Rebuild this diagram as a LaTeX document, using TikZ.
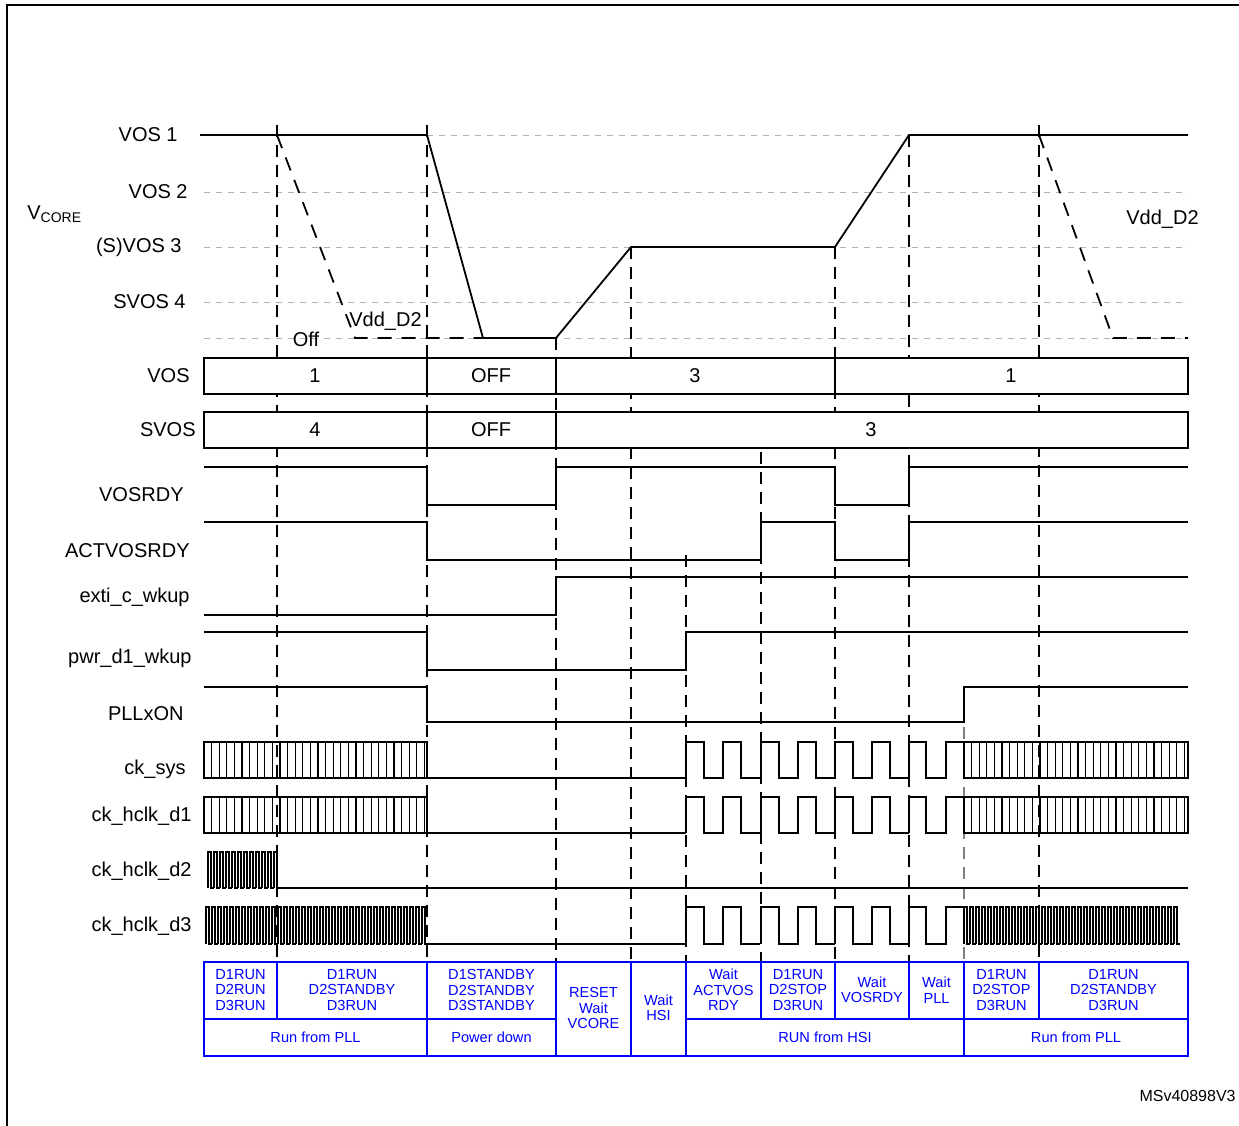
\documentclass[tikz,border=0pt]{standalone}
\usepackage{fontspec}
\setmainfont{Liberation Sans}
\begin{document}
\begin{tikzpicture}[x=0.5pt,y=-0.5pt,
  sig/.style={line width=0.9pt,black},
  grid/.style={gray!60,dashed,line width=0.5pt},
  vd/.style={line width=0.7pt,dash pattern=on 6pt off 4pt},
  lab/.style={anchor=east,font=\fontsize{10}{12}\selectfont,inner sep=0pt},
  fv/.style={font=\fontsize{10}{12}\selectfont,inner sep=0pt},
  tb/.style={blue,line width=0.9pt},
  tt/.style={blue,font=\fontsize{7.3}{7.7}\selectfont,align=center,inner sep=0pt}]
\useasboundingbox (0,0) rectangle (1239,1126);
\draw[line width=1pt] (7,1126) -- (7,5) -- (1239,5);
% grid lines
\foreach \y in {192,247,302,338} \draw[grid] (204,\y) -- (1188,\y);
\draw[grid] (427,135) -- (1188,135);
% vertical dashed markers
\draw[vd] (277,125) -- (277,962);
\draw[vd] (427,125) -- (427,962);
\draw[vd] (556,338) -- (556,962);
\draw[vd] (631,247) -- (631,962);
\draw[vd] (686,555) -- (686,962);
\draw[vd] (761,412) -- (761,962);
\draw[vd] (835,247) -- (835,962);
\draw[vd] (909,135) -- (909,962);
\draw[vd,gray] (964,687) -- (964,962);
\draw[vd] (1039,125) -- (1039,962);
% left labels
\node[lab] (l1) at (178,135) {VOS 1};
\node[lab] (l2) at (188,192) {VOS 2};
\node[lab] (l3) at (182,247) {(S)VOS 3};
\node[lab] (l4) at (186,302) {SVOS 4};
\node[anchor=west,fv] (vc) at (27,214) {V\textsubscript{\fontsize{7}{8}\selectfont CORE}};
\node[lab] (l5) at (190,376) {VOS};
\node[lab] (l6) at (196,430) {SVOS};
\node[lab] (l7) at (184,495) {VOSRDY};
\node[lab] (l8) at (190,551) {ACTVOSRDY};
\node[lab] (l9) at (190,597) {exti\_c\_wkup};
\node[lab] (l10) at (192,658) {pwr\_d1\_wkup};
\node[lab] (l11) at (184,714) {PLLxON};
\node[lab] (l12) at (186,769) {ck\_sys};
\node[lab] (l13) at (192,816) {ck\_hclk\_d1};
\node[lab] (l14) at (192,871) {ck\_hclk\_d2};
\node[lab] (l15) at (192,926) {ck\_hclk\_d3};
% Vcore
\draw[sig] (200,135) -- (427,135) -- (483,338) -- (556,338) -- (631,247) -- (835,247) -- (909,135) -- (1188,135);
\draw[sig,dash pattern=on 7pt off 5pt] (277,135) -- (355,338) -- (483,338);
\draw[sig,dash pattern=on 7pt off 5pt] (1039,135) -- (1113,338) -- (1188,338);
\node[anchor=west,fv] (vd1) at (349,321) {Vdd\_D2};
\node[anchor=west,fv] (vd2) at (1126,219) {Vdd\_D2};
\node[fv] (off) at (306,339) {Off};
% VOS boxes
\draw[sig,fill=white] (204,358) rectangle (1188,394);
\foreach \x in {427,556,835} \draw[sig] (\x,358) -- (\x,394);
\node[fv] at (315,376) {1};
\node[fv] at (491,376) {OFF};
\node[fv] at (695,376) {3};
\node[fv] at (1011,376) {1};
\draw[sig,fill=white] (204,412) rectangle (1188,448);
\foreach \x in {427,556} \draw[sig] (\x,412) -- (\x,448);
\node[fv] at (315,430) {4};
\node[fv] at (491,430) {OFF};
\node[fv] at (871,430) {3};
% digital signals
\draw[sig] (204,467) -- (427,467) -- (427,505) -- (556,505) -- (556,467) -- (835,467) -- (835,505) -- (909,505) -- (909,467) -- (1188,467);
\draw[sig] (204,522) -- (427,522) -- (427,560) -- (761,560) -- (761,522) -- (835,522) -- (835,560) -- (909,560) -- (909,522) -- (1188,522);
\draw[sig] (204,615) -- (556,615) -- (556,577) -- (1188,577);
\draw[sig] (204,632) -- (427,632) -- (427,670) -- (686,670) -- (686,632) -- (1188,632);
\draw[sig] (204,687) -- (427,687) -- (427,722) -- (964,722) -- (964,687) -- (1188,687);
% fast clocks (sys, hclk_d1)
\foreach \yt in {742,797} {
  \draw[sig] (204,\yt) rectangle (427,\yt+36);
  \foreach \i in {1,...,29} \draw[line width=0.6pt] (204+\i*7.6,\yt) -- (204+\i*7.6,\yt+36);
  \draw[sig] (964,\yt) rectangle (1188,\yt+36);
  \foreach \i in {1,...,29} \draw[line width=0.6pt] (964+\i*7.6,\yt) -- (964+\i*7.6,\yt+36);
}
% slow clocks
\foreach \yt/\yb in {742/778,797/833,907/944} {
  \draw[sig] (427,\yb) -- (686,\yb);
  \foreach \s in {686,761,835} \draw[sig] (\s,\yb) -- (\s,\yt) -- (\s+18,\yt) -- (\s+18,\yb) -- (\s+37,\yb) -- (\s+37,\yt) -- (\s+55,\yt) -- (\s+55,\yb) -- (\s+74,\yb);
  \draw[sig] (909,\yb) -- (909,\yt) -- (926,\yt) -- (926,\yb) -- (946,\yb) -- (946,\yt) -- (964,\yt);
}
% hclk_d2
\foreach \i in {0,...,11} \draw[line width=0.7pt] (208+6*\i,888) -- ++(0,-36) -- ++(3,0) -- ++(0,36) -- ++(3,0);
\draw[sig] (277,888) -- (1188,888);
% hclk_d3 fast
\foreach \i in {0,...,36} \draw[line width=0.7pt] (206+6*\i,944) -- ++(0,-37) -- ++(3,0) -- ++(0,37) -- ++(3,0);
\foreach \i in {0,...,35} \draw[line width=0.7pt] (964+6*\i,944) -- ++(0,-37) -- ++(3,0) -- ++(0,37) -- ++(3,0);
% table
\draw[tb] (204,962) rectangle (1188,1056);
\draw[tb] (204,1019) -- (556,1019);
\draw[tb] (686,1019) -- (1188,1019);
\foreach \x in {277,761,835,909,1039} \draw[tb] (\x,962) -- (\x,1019);
\foreach \x in {427,556,631,686,964} \draw[tb] (\x,962) -- (\x,1056);
\node[tt] at (240.5,990) {D1RUN\\D2RUN\\D3RUN};
\node[tt] at (352,990) {D1RUN\\D2STANDBY\\D3RUN};
\node[tt] at (491.5,990) {D1STANDBY\\D2STANDBY\\D3STANDBY};
\node[tt] at (593.5,1008) {RESET\\Wait\\VCORE};
\node[tt] at (658.5,1008) {Wait\\HSI};
\node[tt] at (723.5,990) {Wait\\ACTVOS\\RDY};
\node[tt] at (798,990) {D1RUN\\D2STOP\\D3RUN};
\node[tt] at (872,990) {Wait\\VOSRDY};
\node[tt] at (936.5,990) {Wait\\PLL};
\node[tt] at (1001.5,990) {D1RUN\\D2STOP\\D3RUN};
\node[tt] at (1113.5,990) {D1RUN\\D2STANDBY\\D3RUN};
\node[tt] at (315.5,1037) {Run from PLL};
\node[tt] at (491.5,1037) {Power down};
\node[tt] at (825,1037) {RUN from HSI};
\node[tt] at (1076,1037) {Run from PLL};
\node[anchor=east,inner sep=0pt,font=\fontsize{8}{9}\selectfont] (ms) at (1236,1096) {MSv40898V3};
\end{tikzpicture}
\end{document}
